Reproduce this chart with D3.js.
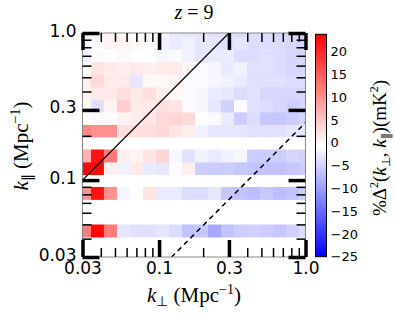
<!DOCTYPE html>
<html>
<head>
<meta charset="utf-8">
<script src="https://cdn.jsdelivr.net/npm/d3@7"></script>
<style>
    body { margin: 0; background: #fff; }
    svg { display: block; }
</style>
</head>
<body>
<div id="d3-container"></div>
<script>
// bin edges (Mpc^-1)
const kperpEdges = [0.0279, 0.0343, 0.0420, 0.0516, 0.0633, 0.0777, 0.0953, 0.117, 0.1435, 0.176,
    0.216, 0.265, 0.325, 0.399, 0.489, 0.600, 0.736, 0.903, 1.109]
const kparEdges = [0.0410, 0.0499, 0.0607, 0.0738, 0.0898, 0.109, 0.1327, 0.1614, 0.1963,
    0.2387, 0.2903, 0.353, 0.4295, 0.5234, 0.637, 0.774, 0.942, 1.146]

// percent difference per cell, rows from lowest k_par upwards, null = empty bin
const pctDiff = [
    [12, 23, 12, -3, -3.5, -3.5, -3, -4, -6.5, -6, -9, -6.5, -5.5, -5, -5.5, -6, -5, -4],
    null,
    null,
    [10, 22, 10, -1.5, -0.5, 2, -2.5, -2.5, -4, -4, -3, -6, -6.5, -7, -6, -7, -6.5, -5.5],
    null,
    [23, 23, 1, -2, 1.5, -2.5, -3, -1, 1, -5.5, -5.5, -5.5, -6, -6.5, -6.5, -6.5, -6, -5.5],
    [7, 22, 12, 1, 0.5, 2, 3.5, -1.5, -3.5, -2, -2.5, -2, -1.5, -5.5, -5.5, -5.5, -4.5, -5],
    null,
    [11, 10, 10, 2.5, 2.5, 2.5, 3, 2, 1, -2, -3, -3, -3, -3.5, -3.5, -3.5, -3, -3],
    [-0.5, -1, -1, 0.5, 1, 2, 3, 3.5, 3, -0.5, -1, -2.5, -5.5, -4, -6, -6, -5.5, -4.5],
    [0, -3.5, 0.5, 4, 1.5, 1.5, 2.5, 2, -1, -1.5, -3, -5, -1, -3.5, -4, -4.5, -5, -4.5],
    [0.5, 1.5, 1.5, 2.5, 1.5, 2.5, 1, 0, -1, -1.5, -2.5, -3, -4, -3.5, -4.5, -4.5, -4.5, -4.5],
    [1, 3, 1.5, 1.5, -3, 0, 0, 0.5, -1, -1, -1.5, -2, -2.5, -3.5, -3.5, -3.5, -4, -4],
    [-0.5, 2, 1.5, 1, 1.5, 1, 1.5, 1.5, 0, -1, -1.5, -2.5, -2, -3.5, -3.5, -4, -4.5, -4.5],
    [-2, -1, -0.5, 0, -0.5, -0.5, -1.5, -1, -2, -3, -2.5, -2.5, -4, -4, -3.5, -4, -4.5, -4.5],
    [-1.5, -0.5, 0.5, 0.5, 0, -0.5, -2, -2.5, -2, -3, -3, -3.5, -3, -4, -4, -4, -4.5, -4.5],
    [-1, 0, 0.5, 0, -0.5, -1, -1.5, -2.5, -3, -3, -3.5, -3.5, -4, -4, -4, -4.5, -4.5, -5]
]

// axis ticks
const majorTicks = [0.03, 0.1, 0.3, 1.0]
const majorLabels = ["0.03", "0.1", "0.3", "1.0"]
const minorTicks = [0.04, 0.05, 0.06, 0.07, 0.08, 0.09, 0.2, 0.4, 0.5, 0.6, 0.7, 0.8, 0.9]
const cbarTicks = [20, 15, 10, 5, 0, -5, -10, -15, -20, -25]
const cbarRange = [-25, 23.75]

// wedge lines k_par = slope * k_perp
const horizonSlope = 3.33
const beamSlope = 0.246

const w = 395
const h = 315
const marg = { left: 82.5, right: 305.5, top: 33, bottom: 257 }

const svg = d3.select('#d3-container')
    .append('svg')
    .attr('width', w)
    .attr('height', h)

const xScale = d3.scaleLog().domain([0.03, 1.0]).range([marg.left, marg.right])
const yScale = d3.scaleLog().domain([0.03, 1.0]).range([marg.bottom, marg.top])

const mid = (cbarRange[0] + cbarRange[1]) / 2
const color = d3.scaleLinear()
    .domain([cbarRange[0], mid, cbarRange[1]])
    .range(["#0000ff", "#ffffff", "#ff0000"])
    .clamp(true)

svg.append('clipPath').attr('id', 'plotClip')
    .append('rect')
    .attr('x', marg.left).attr('y', marg.top)
    .attr('width', marg.right - marg.left)
    .attr('height', marg.bottom - marg.top)

// cells
const cells = []
pctDiff.forEach((row, r) => {
    if (!row) return
    row.forEach((v, c) => cells.push({ r, c, v }))
})

const plot = svg.append('g').attr('clip-path', 'url(#plotClip)')

plot.selectAll('rect.cell')
    .data(cells)
    .enter()
    .append('rect')
    .attr('class', 'cell')
    .attr('x', d => xScale(kperpEdges[d.c]))
    .attr('y', d => yScale(kparEdges[d.r + 1]))
    .attr('width', d => xScale(kperpEdges[d.c + 1]) - xScale(kperpEdges[d.c]) + 0.4)
    .attr('height', d => yScale(kparEdges[d.r]) - yScale(kparEdges[d.r + 1]) + 0.4)
    .attr('fill', d => color(d.v))

// wedge lines
const line = d3.line().x(d => xScale(d[0])).y(d => yScale(d[1]))
const kLine = [0.01, 2]
plot.append('path')
    .attr('d', line(kLine.map(k => [k, k * horizonSlope])))
    .attr('stroke', '#000').attr('stroke-width', 1.3).attr('fill', 'none')
plot.append('path')
    .attr('d', line(kLine.map(k => [k, k * beamSlope])))
    .attr('stroke', '#000').attr('stroke-width', 1.5).attr('fill', 'none')
    .attr('stroke-dasharray', '5,4')

// spines
svg.append('rect')
    .attr('x', marg.left).attr('y', marg.top)
    .attr('width', marg.right - marg.left)
    .attr('height', marg.bottom - marg.top)
    .attr('fill', 'none').attr('stroke', '#888').attr('stroke-width', 1)

// ticks, pointing inward on all four sides
const addAxis = (axisFn, scale, pos, transform, labels) => {
    const major = axisFn(scale).tickValues(majorTicks).tickSize(-17).tickSizeOuter(0)
        .tickPadding(pos === 'bottom' ? 5 : 6)
        .tickFormat((d, i) => labels ? majorLabels[i] : "")
    const minor = axisFn(scale).tickValues(minorTicks).tickSize(-9).tickSizeOuter(0)
        .tickFormat("")
    const gMinor = svg.append('g').attr('transform', transform).call(minor)
    const gMajor = svg.append('g').attr('transform', transform).call(major)
    gMinor.select('.domain').remove()
    gMajor.select('.domain').remove()
    gMinor.selectAll('line').attr('stroke', '#000').attr('stroke-width', 1.5)
    gMajor.selectAll('line').attr('stroke', '#000').attr('stroke-width', 3.5)
    gMajor.selectAll('text')
        .attr('font-family', 'DejaVu Sans')
        .attr('font-size', 17)
        .attr('fill', '#000')
    if (pos === 'left') gMajor.selectAll('text').attr('dy', '0.18em')
}
addAxis(d3.axisBottom, xScale, 'bottom', 'translate(0,' + marg.bottom + ')', true)
addAxis(d3.axisTop, xScale, 'top', 'translate(0,' + marg.top + ')', false)
addAxis(d3.axisLeft, yScale, 'left', 'translate(' + marg.left + ',0)', true)
addAxis(d3.axisRight, yScale, 'right', 'translate(' + marg.right + ',0)', false)

// colorbar
const cb = { x: 315.5, w: 11, top: 34.3, bottom: 256.7 }
const cScale = d3.scaleLinear().domain(cbarRange).range([cb.bottom, cb.top])

const grad = svg.append('defs').append('linearGradient')
    .attr('id', 'cbGrad')
    .attr('x1', 0).attr('y1', 1).attr('x2', 0).attr('y2', 0)
grad.selectAll('stop')
    .data([cbarRange[0], mid, cbarRange[1]])
    .enter()
    .append('stop')
    .attr('offset', (d, i) => i / 2)
    .attr('stop-color', d => color(d))

svg.append('rect')
    .attr('x', cb.x).attr('y', cb.top)
    .attr('width', cb.w).attr('height', cb.bottom - cb.top)
    .attr('fill', 'url(#cbGrad)')
    .attr('stroke', '#000').attr('stroke-width', 1)

const cAxis = d3.axisRight(cScale)
    .tickValues(cbarTicks)
    .tickSize(0)
    .tickPadding(4)
    .tickFormat(d => d < 0 ? "\u2212" + Math.abs(d) : d)
const gC = svg.append('g')
    .attr('transform', 'translate(' + (cb.x + cb.w) + ',0)')
    .call(cAxis)
gC.select('.domain').remove()
gC.selectAll('text').attr('font-family', 'DejaVu Sans').attr('font-size', 13).attr('fill', '#000')

// texts
const serif = 'Liberation Serif'

const title = svg.append('text')
    .attr('x', 194).attr('y', 19)
    .attr('text-anchor', 'middle')
    .attr('font-family', serif).attr('font-size', 20)
title.append('tspan').attr('font-style', 'italic').text('z')
title.append('tspan').text(' = 9')

const kLabel = (g, sub) => {
    g.append('tspan').attr('font-style', 'italic').text('k')
    g.append('tspan').attr('font-size', 14).attr('dy', 4).text(sub)
    g.append('tspan').attr('dy', -4).text(' (Mpc')
    g.append('tspan').attr('font-size', 14).attr('dy', -8).text('\u22121')
    g.append('tspan').attr('dy', 8).text(')')
}

const xLabel = svg.append('text')
    .attr('x', 194).attr('y', 302)
    .attr('text-anchor', 'middle')
    .attr('font-family', serif).attr('font-size', 21)
kLabel(xLabel, '\u22a5')

const yLabel = svg.append('text')
    .attr('transform', 'translate(28,146) rotate(-90)')
    .attr('text-anchor', 'middle')
    .attr('font-family', serif).attr('font-size', 21)
kLabel(yLabel, '\u2225')

const cLabel = svg.append('text')
    .attr('transform', 'translate(386,148) rotate(-90)')
    .attr('text-anchor', 'middle')
    .attr('font-family', serif).attr('font-size', 19)
cLabel.append('tspan').text('%\u0394')
cLabel.append('tspan').attr('font-size', 12).attr('dy', -8).text('2')
cLabel.append('tspan').attr('dy', 8).text('(')
cLabel.append('tspan').attr('font-style', 'italic').text('k')
cLabel.append('tspan').attr('font-size', 12).attr('dy', 4).text('\u22a5')
cLabel.append('tspan').attr('dy', -4).text(', ')
cLabel.append('tspan').attr('font-style', 'italic').text('k')
cLabel.append('tspan').attr('font-size', 12).attr('dy', 4).text('\u2225')
cLabel.append('tspan').attr('dy', -4).text(')(mK')
cLabel.append('tspan').attr('font-size', 12).attr('dy', -8).text('2')
cLabel.append('tspan').attr('dy', 8).text(')')
</script>
</body>
</html>
